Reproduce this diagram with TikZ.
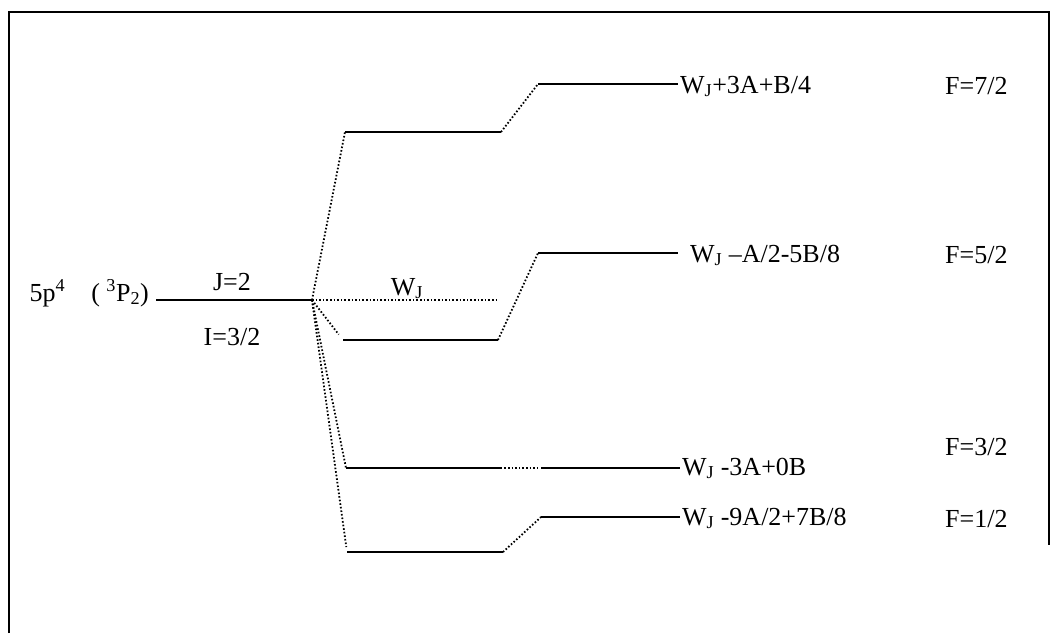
\documentclass[tikz,border=0pt]{standalone}
\usepackage{fontspec}
\setmainfont{Liberation Serif}
\usetikzlibrary{positioning}

\begin{document}
\begin{tikzpicture}[x=1pt,y=-1pt,
  lvl/.style={line width=2pt},
  link/.style={line width=1.8pt, dash pattern=on 1.6pt off 2pt},
  lab/.style={font=\fontsize{26}{30}\selectfont, inner sep=0pt, anchor=base west}]
\useasboundingbox (0,0) rectangle (1058,633);
\draw[line width=2.8pt] (9,633) -- (9,12) -- (1049,12) -- (1049,545);
% fine structure level
\coordinate (j0) at (156,300);
\coordinate (j1) at (312,300);
\coordinate (w1) at (497,300);
\node[lab, anchor=base east] (conf) at (149,301) {5p\textsuperscript{4}\quad( \textsuperscript{3}P\textsubscript{2})};
\node[lab, anchor=base] (jlab) at (232,290) {J=2};
\node[lab, anchor=base] (ilab) at (232,345) {I=3/2};
\node[lab, anchor=base] (wlab) at (407,295) {W\textsubscript{J}};
% hyperfine levels, first order
\coordinate (a0) at (345,132); \coordinate (a1) at (501,132);
\coordinate (b0) at (343,340); \coordinate (b1) at (498,340);
\coordinate (c0) at (346,468); \coordinate (c1) at (502,468);
\coordinate (d0) at (347,552); \coordinate (d1) at (503,552);
% hyperfine levels, with quadrupole term
\coordinate (r1a) at (538,84);  \coordinate (r1b) at (678,84);
\coordinate (r2a) at (538,253); \coordinate (r2b) at (678,253);
\coordinate (r3a) at (541,468); \coordinate (r3b) at (680,468);
\coordinate (r4a) at (541,517); \coordinate (r4b) at (680,517);
\node[lab] (e1) at (680,93)  {W\textsubscript{J}+3A+B/4};
\node[lab] (e2) at (690,262) {W\textsubscript{J} --A/2-5B/8};
\node[lab] (e3) at (682,475) {W\textsubscript{J} -3A+0B};
\node[lab] (e4) at (682,525) {W\textsubscript{J} -9A/2+7B/8};
\node[lab] (f1) at (945,94)  {F=7/2};
\node[lab] (f2) at (945,263) {F=5/2};
\node[lab] (f3) at (945,455) {F=3/2};
\node[lab] (f4) at (945,527) {F=1/2};
\draw[lvl] (j0) -- (j1);
\draw[lvl] (a0) -- (a1) (b0) -- (b1) (c0) -- (c1) (d0) -- (d1);
\draw[lvl] (r1a) -- (r1b) (r2a) -- (r2b) (r3a) -- (r3b) (r4a) -- (r4b);
\draw[link] (j1) -- (w1);
\draw[link] (j1) -- (a0);
\draw[link, shorten >=7pt] (j1) -- (b0);
\draw[link] (j1) -- (c0);
\draw[link, shorten >=5pt] (j1) -- (d0);
\draw[link] (a1) -- (r1a);
\draw[link] (b1) -- (r2a);
\draw[link, shorten <=-12pt, shorten >=4pt] (c1) -- (r3a);
\draw[link] (d1) -- (r4a);
\end{tikzpicture}
\end{document}
